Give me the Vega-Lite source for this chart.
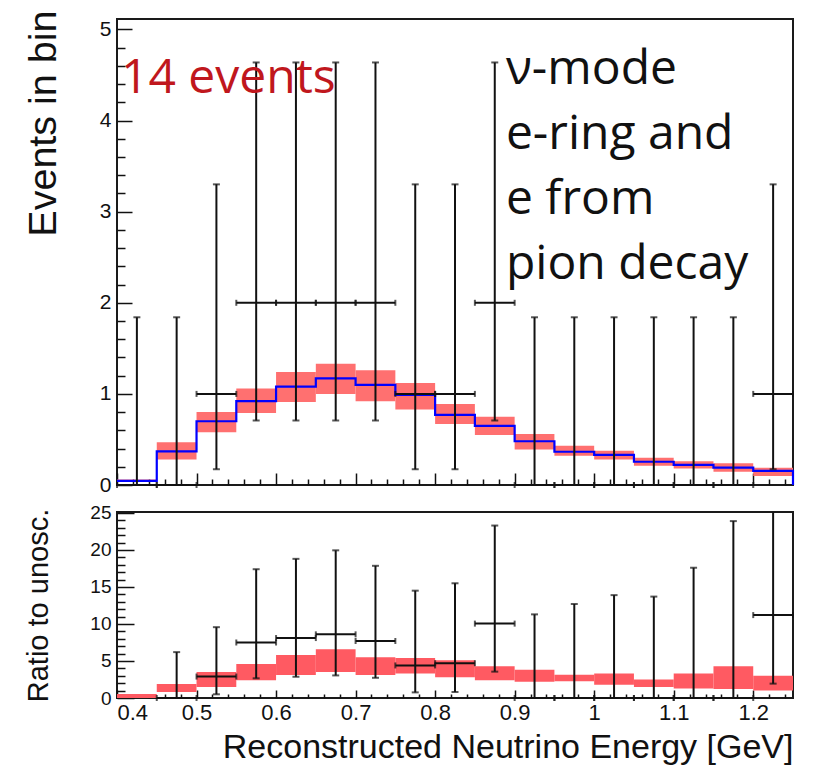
{
  "$schema": "https://vega.github.io/schema/vega-lite/v6.json",
  "background": "white",
  "padding": {"left": 22, "top": 8, "right": 16, "bottom": 5},
  "spacing": 27,
  "bounds": "flush",
  "config": {
    "font": "Liberation Sans",
    "view": {"stroke": "#1a1a1a", "strokeWidth": 2},
    "axis": {
      "domain": false,
      "grid": false,
      "tickColor": "#111111",
      "tickWidth": 1.5,
      "labelColor": "#111111",
      "titleColor": "#111111",
      "titleFontWeight": "normal",
      "labelFont": "Liberation Sans",
      "titleFont": "Liberation Sans"
    }
  },
  "datasets": {
    "bins": [
      {"c": 0.425, "lo": 0.40, "hi": 0.45, "blo": 0.035, "bhi": 0.06, "n": 0, "elo": 0, "ehi": 1.841},
      {"c": 0.475, "lo": 0.45, "hi": 0.50, "blo": 0.28, "bhi": 0.47, "n": 0, "elo": 0, "ehi": 1.841},
      {"c": 0.525, "lo": 0.50, "hi": 0.55, "blo": 0.58, "bhi": 0.80, "n": 1, "elo": 0.173, "ehi": 3.300},
      {"c": 0.575, "lo": 0.55, "hi": 0.60, "blo": 0.79, "bhi": 1.06, "n": 2, "elo": 0.708, "ehi": 4.638},
      {"c": 0.625, "lo": 0.60, "hi": 0.65, "blo": 0.91, "bhi": 1.24, "n": 2, "elo": 0.708, "ehi": 4.638},
      {"c": 0.675, "lo": 0.65, "hi": 0.70, "blo": 1.00, "bhi": 1.33, "n": 2, "elo": 0.708, "ehi": 4.638},
      {"c": 0.725, "lo": 0.70, "hi": 0.75, "blo": 0.92, "bhi": 1.26, "n": 2, "elo": 0.708, "ehi": 4.638},
      {"c": 0.775, "lo": 0.75, "hi": 0.80, "blo": 0.83, "bhi": 1.12, "n": 1, "elo": 0.173, "ehi": 3.300},
      {"c": 0.825, "lo": 0.80, "hi": 0.85, "blo": 0.67, "bhi": 0.89, "n": 1, "elo": 0.173, "ehi": 3.300},
      {"c": 0.875, "lo": 0.85, "hi": 0.90, "blo": 0.55, "bhi": 0.75, "n": 2, "elo": 0.708, "ehi": 4.638},
      {"c": 0.925, "lo": 0.90, "hi": 0.95, "blo": 0.39, "bhi": 0.56, "n": 0, "elo": 0, "ehi": 1.841},
      {"c": 0.975, "lo": 0.95, "hi": 1.00, "blo": 0.32, "bhi": 0.43, "n": 0, "elo": 0, "ehi": 1.841},
      {"c": 1.025, "lo": 1.00, "hi": 1.05, "blo": 0.28, "bhi": 0.375, "n": 0, "elo": 0, "ehi": 1.841},
      {"c": 1.075, "lo": 1.05, "hi": 1.10, "blo": 0.21, "bhi": 0.30, "n": 0, "elo": 0, "ehi": 1.841},
      {"c": 1.125, "lo": 1.10, "hi": 1.15, "blo": 0.18, "bhi": 0.26, "n": 0, "elo": 0, "ehi": 1.841},
      {"c": 1.175, "lo": 1.15, "hi": 1.20, "blo": 0.145, "bhi": 0.24, "n": 0, "elo": 0, "ehi": 1.841},
      {"c": 1.225, "lo": 1.20, "hi": 1.25, "blo": 0.10, "bhi": 0.19, "n": 1, "elo": 0.173, "ehi": 3.300}
    ],
    "mcstep": [
      {"i": 0, "e": 0.40, "v": 0.046},
      {"i": 1, "e": 0.45, "v": 0.37},
      {"i": 2, "e": 0.50, "v": 0.70},
      {"i": 3, "e": 0.55, "v": 0.92},
      {"i": 4, "e": 0.60, "v": 1.08},
      {"i": 5, "e": 0.65, "v": 1.17},
      {"i": 6, "e": 0.70, "v": 1.10},
      {"i": 7, "e": 0.75, "v": 0.99},
      {"i": 8, "e": 0.80, "v": 0.77},
      {"i": 9, "e": 0.85, "v": 0.65},
      {"i": 10, "e": 0.90, "v": 0.48},
      {"i": 11, "e": 0.95, "v": 0.365},
      {"i": 12, "e": 1.00, "v": 0.33},
      {"i": 13, "e": 1.05, "v": 0.255},
      {"i": 14, "e": 1.10, "v": 0.22},
      {"i": 15, "e": 1.15, "v": 0.19},
      {"i": 16, "e": 1.20, "v": 0.155},
      {"i": 17, "e": 1.25, "v": 0.155},
      {"i": 18, "e": 1.25, "v": 0}
    ],
    "rband": [
      {"lo": 0.40, "hi": 0.45, "blo": 0.0, "bhi": 0.55},
      {"lo": 0.45, "hi": 0.50, "blo": 0.8, "bhi": 1.9},
      {"lo": 0.50, "hi": 0.55, "blo": 1.5, "bhi": 3.5},
      {"lo": 0.55, "hi": 0.60, "blo": 2.4, "bhi": 4.6},
      {"lo": 0.60, "hi": 0.65, "blo": 3.1, "bhi": 5.8},
      {"lo": 0.65, "hi": 0.70, "blo": 3.5, "bhi": 6.6},
      {"lo": 0.70, "hi": 0.75, "blo": 3.1, "bhi": 5.5},
      {"lo": 0.75, "hi": 0.80, "blo": 3.3, "bhi": 5.4},
      {"lo": 0.80, "hi": 0.85, "blo": 2.8, "bhi": 5.1},
      {"lo": 0.85, "hi": 0.90, "blo": 2.4, "bhi": 4.3},
      {"lo": 0.90, "hi": 0.95, "blo": 2.2, "bhi": 3.8},
      {"lo": 0.95, "hi": 1.00, "blo": 2.25, "bhi": 3.15},
      {"lo": 1.00, "hi": 1.05, "blo": 1.8, "bhi": 3.3},
      {"lo": 1.05, "hi": 1.10, "blo": 1.5, "bhi": 2.5},
      {"lo": 1.10, "hi": 1.15, "blo": 1.3, "bhi": 3.3},
      {"lo": 1.15, "hi": 1.20, "blo": 1.2, "bhi": 4.3},
      {"lo": 1.20, "hi": 1.25, "blo": 1.0, "bhi": 3.0}
    ],
    "rdata": [
      {"c": 0.475, "lo": 0.45, "hi": 0.50, "r": 0, "elo": 0, "ehi": 6.2},
      {"c": 0.525, "lo": 0.50, "hi": 0.55, "r": 2.9, "elo": 0.50, "ehi": 9.57},
      {"c": 0.575, "lo": 0.55, "hi": 0.60, "r": 7.5, "elo": 2.66, "ehi": 17.4},
      {"c": 0.625, "lo": 0.60, "hi": 0.65, "r": 8.1, "elo": 2.87, "ehi": 18.8},
      {"c": 0.675, "lo": 0.65, "hi": 0.70, "r": 8.6, "elo": 3.05, "ehi": 19.95},
      {"c": 0.725, "lo": 0.70, "hi": 0.75, "r": 7.7, "elo": 2.73, "ehi": 17.86},
      {"c": 0.775, "lo": 0.75, "hi": 0.80, "r": 4.4, "elo": 0.76, "ehi": 14.5},
      {"c": 0.825, "lo": 0.80, "hi": 0.85, "r": 4.7, "elo": 0.81, "ehi": 15.5},
      {"c": 0.875, "lo": 0.85, "hi": 0.90, "r": 10.05, "elo": 3.56, "ehi": 23.3},
      {"c": 0.925, "lo": 0.90, "hi": 0.95, "r": 0, "elo": 0, "ehi": 11.3},
      {"c": 0.975, "lo": 0.95, "hi": 1.00, "r": 0, "elo": 0, "ehi": 12.7},
      {"c": 1.025, "lo": 1.00, "hi": 1.05, "r": 0, "elo": 0, "ehi": 13.9},
      {"c": 1.075, "lo": 1.05, "hi": 1.10, "r": 0, "elo": 0, "ehi": 13.7},
      {"c": 1.125, "lo": 1.10, "hi": 1.15, "r": 0, "elo": 0, "ehi": 17.6},
      {"c": 1.175, "lo": 1.15, "hi": 1.20, "r": 0, "elo": 0, "ehi": 23.9},
      {"c": 1.225, "lo": 1.20, "hi": 1.25, "r": 11.2, "elo": 1.94, "ehi": 37.0}
    ]
  },
  "vconcat": [
    {
      "width": 676,
      "height": 466,
      "resolve": {"axis": {"x": "independent", "y": "independent"}},
      "layer": [
        {
          "data": {"name": "bins"},
          "mark": {"type": "rect", "color": "#ff7070"},
          "encoding": {
            "x": {"field": "lo", "type": "quantitative",
                  "scale": {"domain": [0.4, 1.25], "nice": false, "zero": false},
                  "axis": {"orient": "bottom", "values": [0.4, 0.5, 0.6, 0.7, 0.8, 0.9, 1.0, 1.1, 1.2], "tickSize": -12, "labels": false, "title": null}},
            "x2": {"field": "hi"},
            "y": {"field": "blo", "type": "quantitative",
                  "scale": {"domain": [0, 5.115], "nice": false},
                  "axis": {"orient": "left", "values": [0, 1, 2, 3, 4, 5], "tickSize": -15, "labelFontSize": 21, "labelPadding": 21,
                           "title": "Events in bin", "titleFontSize": 39.5, "titleAnchor": "end", "titlePadding": 36, "titleY": -9}},
            "y2": {"field": "bhi"}
          }
        },
        {
          "data": {"name": "mcstep"},
          "mark": {"type": "line", "interpolate": "step-after", "color": "#0000ff", "strokeWidth": 2.2},
          "encoding": {
            "x": {"field": "e", "type": "quantitative",
                  "axis": {"orient": "bottom", "values": [0.42, 0.44, 0.46, 0.48, 0.52, 0.54, 0.56, 0.58, 0.62, 0.64, 0.66, 0.68, 0.72, 0.74, 0.76, 0.78, 0.82, 0.84, 0.86, 0.88, 0.92, 0.94, 0.96, 0.98, 1.02, 1.04, 1.06, 1.08, 1.12, 1.14, 1.16, 1.18, 1.22, 1.24], "tickSize": -6, "labels": false, "title": null}},
            "y": {"field": "v", "type": "quantitative",
                  "axis": {"orient": "left", "values": [0.2, 0.4, 0.6, 0.8, 1.2, 1.4, 1.6, 1.8, 2.2, 2.4, 2.6, 2.8, 3.2, 3.4, 3.6, 3.8, 4.2, 4.4, 4.6, 4.8], "tickSize": -8, "labels": false, "title": null}},
            "order": {"field": "i"}
          }
        },
        {
          "data": {"name": "bins"},
          "mark": {"type": "rule", "color": "#111111", "strokeWidth": 2},
          "encoding": {
            "x": {"field": "c", "type": "quantitative", "axis": null},
            "y": {"field": "elo", "type": "quantitative", "axis": null},
            "y2": {"field": "ehi"}
          }
        },
        {
          "data": {"name": "bins"},
          "mark": {"type": "rule", "color": "#111111", "strokeWidth": 2},
          "encoding": {
            "x": {"field": "lo", "type": "quantitative", "axis": null},
            "x2": {"field": "hi"},
            "y": {"field": "n", "type": "quantitative", "axis": null}
          }
        },
        {
          "data": {"name": "bins"},
          "mark": {"type": "tick", "orient": "horizontal", "color": "#111111", "size": 7, "thickness": 2},
          "encoding": {
            "x": {"field": "c", "type": "quantitative", "axis": null},
            "y": {"field": "ehi", "type": "quantitative", "axis": null}
          }
        },
        {
          "data": {"name": "bins"},
          "mark": {"type": "tick", "orient": "horizontal", "color": "#111111", "size": 7, "thickness": 2},
          "encoding": {
            "x": {"field": "c", "type": "quantitative", "axis": null},
            "y": {"field": "elo", "type": "quantitative", "axis": null}
          }
        },
        {
          "data": {"name": "bins"},
          "mark": {"type": "tick", "orient": "vertical", "color": "#111111", "size": 6, "thickness": 2},
          "encoding": {
            "x": {"field": "lo", "type": "quantitative", "axis": null},
            "y": {"field": "n", "type": "quantitative", "axis": null}
          }
        },
        {
          "data": {"name": "bins"},
          "mark": {"type": "tick", "orient": "vertical", "color": "#111111", "size": 6, "thickness": 2},
          "encoding": {
            "x": {"field": "hi", "type": "quantitative", "axis": null},
            "y": {"field": "n", "type": "quantitative", "axis": null}
          }
        },
        {
          "data": {"values": [{}]},
          "mark": {"type": "text", "font": "Open Sans", "fontSize": 48, "color": "#c0171d", "align": "left", "baseline": "alphabetic"},
          "encoding": {
            "x": {"datum": 0.405, "type": "quantitative", "axis": null},
            "y": {"datum": 4.3, "type": "quantitative", "axis": null},
            "text": {"value": "14 events"}
          }
        },
        {
          "data": {"values": [{}]},
          "mark": {"type": "text", "font": "Open Sans", "fontSize": 48, "color": "#111111", "align": "left", "baseline": "alphabetic", "lineHeight": 65},
          "encoding": {
            "x": {"datum": 0.889, "type": "quantitative", "axis": null},
            "y": {"datum": 4.40, "type": "quantitative", "axis": null},
            "text": {"value": ["ν-mode", "e-ring and", "e from", "pion decay"]}
          }
        }
      ]
    },
    {
      "width": 676,
      "height": 186,
      "resolve": {"axis": {"x": "independent", "y": "independent"}},
      "layer": [
        {
          "data": {"name": "rband"},
          "mark": {"type": "rect", "color": "#ff5a62"},
          "encoding": {
            "x": {"field": "lo", "type": "quantitative",
                  "scale": {"domain": [0.4, 1.25], "nice": false, "zero": false},
                  "axis": {"orient": "bottom", "values": [0.4, 0.5, 0.6, 0.7, 0.8, 0.9, 1.0, 1.1, 1.2], "format": "~g", "tickSize": -8, "labelFontSize": 22, "labelPadding": 12,
                           "title": "Reconstructed Neutrino Energy [GeV]", "titleFontSize": 34, "titleAnchor": "end", "titlePadding": 7}},
            "x2": {"field": "hi"},
            "y": {"field": "blo", "type": "quantitative",
                  "scale": {"domain": [0, 25.13], "nice": false},
                  "axis": {"orient": "left", "values": [0, 5, 10, 15, 20, 25], "tickSize": -17, "labelFontSize": 19, "labelPadding": 23,
                           "title": "Ratio to unosc.", "titleFontSize": 29, "titlePadding": 36}},
            "y2": {"field": "bhi"}
          }
        },
        {
          "data": {"name": "rdata"},
          "mark": {"type": "rule", "color": "#111111", "strokeWidth": 2, "clip": true},
          "encoding": {
            "x": {"field": "c", "type": "quantitative",
                  "axis": {"orient": "bottom", "values": [0.42, 0.44, 0.46, 0.48, 0.52, 0.54, 0.56, 0.58, 0.62, 0.64, 0.66, 0.68, 0.72, 0.74, 0.76, 0.78, 0.82, 0.84, 0.86, 0.88, 0.92, 0.94, 0.96, 0.98, 1.02, 1.04, 1.06, 1.08, 1.12, 1.14, 1.16, 1.18, 1.22, 1.24], "tickSize": -4, "labels": false, "title": null}},
            "y": {"field": "elo", "type": "quantitative",
                  "axis": {"orient": "left", "values": [1, 2, 3, 4, 6, 7, 8, 9, 11, 12, 13, 14, 16, 17, 18, 19, 21, 22, 23, 24], "tickSize": -8, "labels": false, "title": null}},
            "y2": {"field": "ehi"}
          }
        },
        {
          "data": {"name": "rdata"},
          "mark": {"type": "rule", "color": "#111111", "strokeWidth": 2},
          "encoding": {
            "x": {"field": "lo", "type": "quantitative", "axis": null},
            "x2": {"field": "hi"},
            "y": {"field": "r", "type": "quantitative", "axis": null}
          }
        },
        {
          "data": {"name": "rdata"},
          "mark": {"type": "tick", "orient": "horizontal", "color": "#111111", "size": 7, "thickness": 2, "clip": true},
          "encoding": {
            "x": {"field": "c", "type": "quantitative", "axis": null},
            "y": {"field": "ehi", "type": "quantitative", "axis": null}
          }
        },
        {
          "data": {"name": "rdata"},
          "mark": {"type": "tick", "orient": "horizontal", "color": "#111111", "size": 7, "thickness": 2},
          "encoding": {
            "x": {"field": "c", "type": "quantitative", "axis": null},
            "y": {"field": "elo", "type": "quantitative", "axis": null}
          }
        },
        {
          "data": {"name": "rdata"},
          "mark": {"type": "tick", "orient": "vertical", "color": "#111111", "size": 6, "thickness": 2},
          "encoding": {
            "x": {"field": "lo", "type": "quantitative", "axis": null},
            "y": {"field": "r", "type": "quantitative", "axis": null}
          }
        },
        {
          "data": {"name": "rdata"},
          "mark": {"type": "tick", "orient": "vertical", "color": "#111111", "size": 6, "thickness": 2},
          "encoding": {
            "x": {"field": "hi", "type": "quantitative", "axis": null},
            "y": {"field": "r", "type": "quantitative", "axis": null}
          }
        }
      ]
    }
  ]
}
